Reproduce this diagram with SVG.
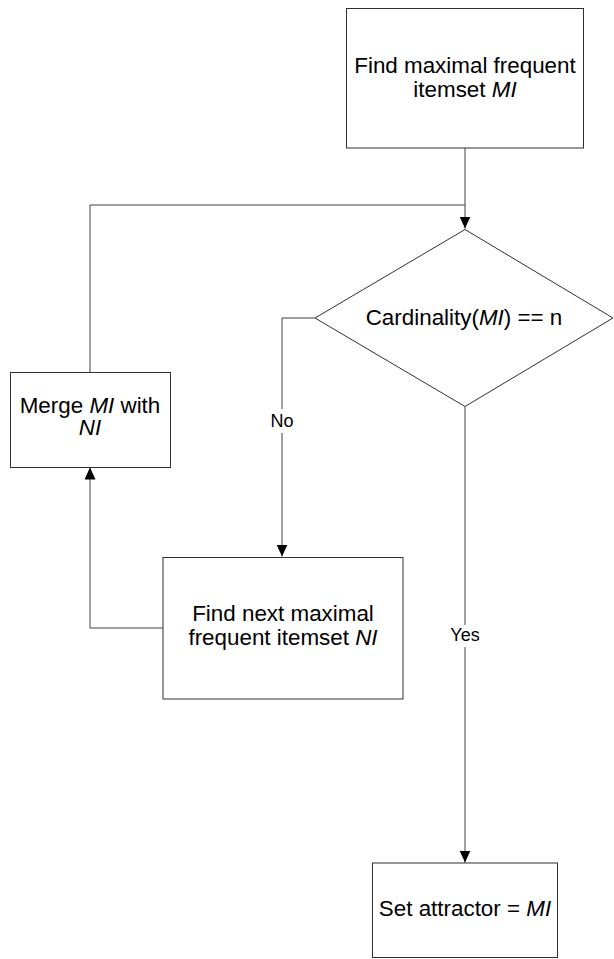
<svg xmlns="http://www.w3.org/2000/svg" width="614" height="959" viewBox="0 0 614 959">
<style>
.node{fill:#fff;stroke:#303030;stroke-width:1}
.t{font-family:"Liberation Sans",Arial,sans-serif;font-size:22.4px;fill:#000;text-anchor:middle}
.lbl{font-family:"Liberation Sans",Arial,sans-serif;font-size:18px;fill:#000;text-anchor:middle}
.i{font-style:italic}
.c{fill:none;stroke:#404040;stroke-width:1}
</style>
<defs>
<marker id="ah" markerUnits="userSpaceOnUse" markerWidth="12" markerHeight="11" refX="12" refY="5.5" orient="auto">
<path d="M0,0 L12,5.5 L0,11 z" fill="#000"/>
</marker>
</defs>
<rect width="614" height="959" fill="#fff"/>
<g id="connectors">
<path class="c" d="M465,148 V228.5" marker-end="url(#ah)"/>
<path class="c" d="M90,372.5 V205 H465"/>
<path class="c" d="M315,318 H282 V556.5" marker-end="url(#ah)"/>
<path class="c" d="M163,628 H90 V467.5" marker-end="url(#ah)"/>
<path class="c" d="M465,407 V862.5" marker-end="url(#ah)"/>
<rect x="268" y="409" width="28" height="24" fill="#fff"/>
<text class="lbl" x="282" y="427">No</text>
<rect x="446" y="625" width="38" height="22" fill="#fff"/>
<text class="lbl" x="465" y="641">Yes</text>
</g>
<g id="find-maximal">
<rect class="node" x="346.5" y="8.5" width="237" height="139.5"/>
<text class="t" x="465" y="72.5">Find maximal frequent</text>
<text class="t" x="465" y="97">itemset <tspan class="i">MI</tspan></text>
</g>
<g id="cardinality">
<polygon class="node" points="465,229.5 613,318 465,406.5 315,318"/>
<text class="t" x="464" y="325">Cardinality(<tspan class="i">MI</tspan>) == n</text>
</g>
<g id="merge">
<rect class="node" x="10.5" y="372.5" width="160" height="95"/>
<text class="t" x="90" y="412.5">Merge <tspan class="i">MI</tspan> with</text>
<text class="t" x="90" y="435"><tspan class="i">NI</tspan></text>
</g>
<g id="find-next">
<rect class="node" x="163" y="557.5" width="240" height="141.5"/>
<text class="t" x="283" y="621">Find next maximal</text>
<text class="t" x="283" y="645">frequent itemset <tspan class="i">NI</tspan></text>
</g>
<g id="set-attractor">
<rect class="node" x="372.5" y="863" width="185" height="94.5"/>
<text class="t" x="465" y="916">Set attractor = <tspan class="i">MI</tspan></text>
</g>
</svg>
